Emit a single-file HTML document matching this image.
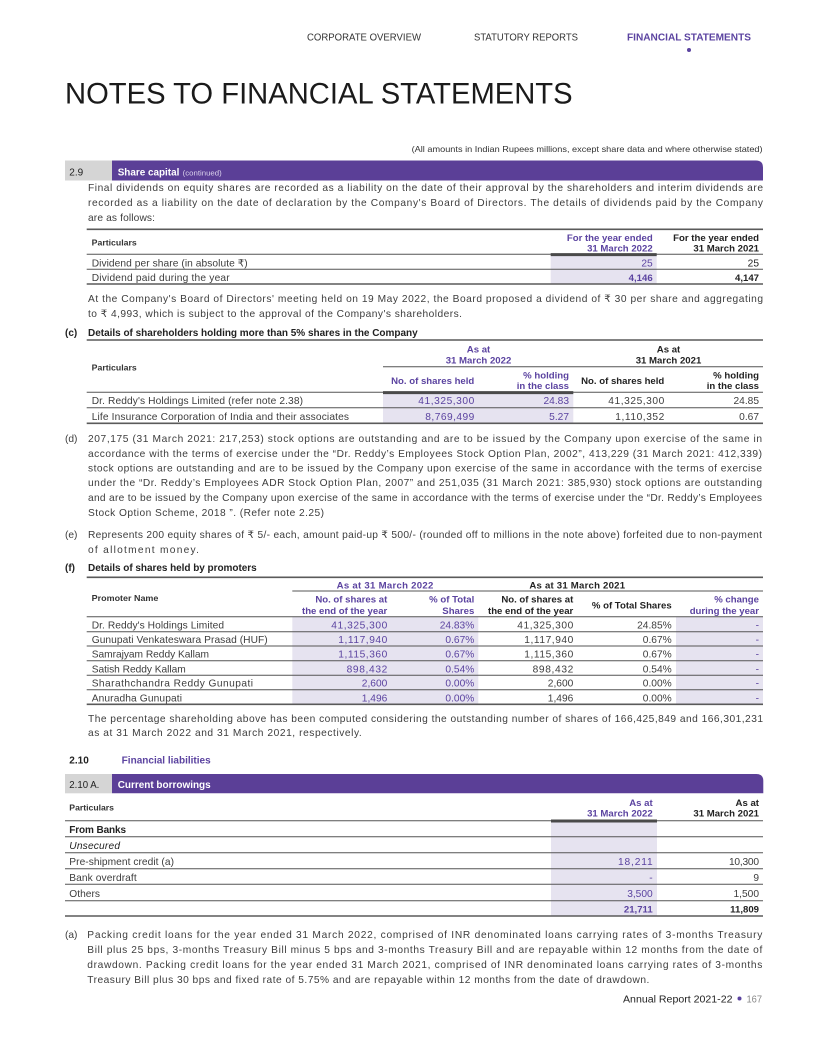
<!DOCTYPE html>
<html><head><meta charset="utf-8"><style>
html,body{margin:0;padding:0;background:#fff;}
svg{display:block;}
text{font-family:"Liberation Sans","DejaVu Sans",sans-serif;font-size:10.2px;fill:#3d3d3d;}
.b{font-weight:bold;font-size:9.6px;}
.p{fill:#5b43a0;}
.d{fill:#222;}
.w{fill:#fff;}
.h{font-size:8.5px;font-weight:bold;fill:#333;}
.e{text-anchor:end;}
.m{text-anchor:middle;}
.ln{stroke:#555;stroke-width:1;}
.tl{stroke:#5a5a5a;stroke-width:1.6;}
.tk{stroke:#4a4a4a;stroke-width:3;}
.sh{fill:#e6e3f0;}
</style></head><body>
<svg width="820" height="1037" viewBox="0 0 820 1037" xmlns="http://www.w3.org/2000/svg">
<rect width="820" height="1037" fill="#fff"/>
<!-- nav -->
<text x="307" y="40.5" textLength="114" lengthAdjust="spacingAndGlyphs" style="font-size:10px;fill:#333">CORPORATE OVERVIEW</text>
<text x="474" y="40.5" textLength="104" lengthAdjust="spacingAndGlyphs" style="font-size:10px;fill:#333">STATUTORY REPORTS</text>
<text x="627" y="40.5" textLength="124" lengthAdjust="spacingAndGlyphs" class="b p" style="font-size:10px">FINANCIAL STATEMENTS</text>
<circle cx="689" cy="50" r="2" fill="#5b43a0"/>
<!-- title -->
<text x="65" y="103.5" textLength="507.6" lengthAdjust="spacingAndGlyphs" style="font-size:30px;fill:#1a1a1a">NOTES TO FINANCIAL STATEMENTS</text>
<text x="411.6" y="152" textLength="351" lengthAdjust="spacingAndGlyphs" style="font-size:8.5px;fill:#333">(All amounts in Indian Rupees millions, except share data and where otherwise stated)</text>
<!-- bar 2.9 -->
<rect x="65" y="160.5" width="47" height="20" fill="#d5d5d5"/>
<path d="M112 160.5 H756 Q763 160.5 763 167.5 V180.5 H112 Z" fill="#5b3f97"/>
<text x="69.3" y="175.3" class="d" style="font-size:10px">2.9</text>
<text x="117.7" y="175.3" class="b w" textLength="61.7" lengthAdjust="spacingAndGlyphs" style="font-size:10px">Share capital</text>
<text x="182.7" y="175.3" textLength="39" lengthAdjust="spacingAndGlyphs" style="font-size:7.5px;fill:#ddd5ee">(continued)</text>
<!-- para 1 -->
<text x="88" y="191.2" textLength="675" lengthAdjust="spacing">Final dividends on equity shares are recorded as a liability on the date of their approval by the shareholders and interim dividends are</text>
<text x="88" y="206.2" textLength="675" lengthAdjust="spacing">recorded as a liability on the date of declaration by the Company's Board of Directors. The details of dividends paid by the Company</text>
<text x="88" y="221.2" textLength="67" lengthAdjust="spacing">are as follows:</text>
<!-- dividend table -->
<rect x="550.7" y="254.3" width="106" height="29.7" class="sh"/>
<line x1="86.7" y1="229.3" x2="763" y2="229.3" class="tl"/>
<text x="91.7" y="245.7" class="h" textLength="45" lengthAdjust="spacingAndGlyphs">Particulars</text>
<text x="652.7" y="241" class="b p e">For the year ended</text>
<text x="652.7" y="251.6" class="b p e">31 March 2022</text>
<text x="759" y="241" class="b d e">For the year ended</text>
<text x="759" y="251.6" class="b d e">31 March 2021</text>
<line x1="86.7" y1="254.3" x2="763" y2="254.3" class="ln"/>
<line x1="550.7" y1="254.6" x2="656.7" y2="254.6" class="tk"/>
<text x="91.7" y="266.7" textLength="156" lengthAdjust="spacing">Dividend per share (in absolute ₹)</text>
<text x="652.7" y="266.7" class="p e">25</text>
<text x="759" y="266.7" class="e d">25</text>
<line x1="86.7" y1="269.3" x2="763" y2="269.3" class="ln"/>
<text x="91.7" y="281.1" textLength="138" lengthAdjust="spacing">Dividend paid during the year</text>
<text x="652.7" y="281.1" class="b p e">4,146</text>
<text x="759" y="281.1" class="b d e">4,147</text>
<line x1="86.7" y1="284" x2="763" y2="284" class="tl"/>
<!-- para 2 -->
<text x="88" y="301.8" textLength="675" lengthAdjust="spacing">At the Company's Board of Directors' meeting held on 19 May 2022, the Board proposed a dividend of ₹ 30 per share and aggregating</text>
<text x="88" y="316.8" textLength="374" lengthAdjust="spacing">to ₹ 4,993, which is subject to the approval of the Company's shareholders.</text>
<!-- (c) -->
<text x="65" y="336.2" class="b d" style="font-size:10px">(c)</text>
<text x="88" y="336.2" class="b d" textLength="329.7" lengthAdjust="spacing" style="font-size:10px">Details of shareholders holding more than 5% shares in the Company</text>
<rect x="383" y="392.3" width="190.3" height="31" class="sh"/>
<line x1="86.7" y1="340" x2="763" y2="340" class="tl"/>
<text x="478.5" y="352.4" class="b p m">As at</text>
<text x="478.5" y="363.7" class="b p m">31 March 2022</text>
<text x="668.5" y="352.4" class="b d m">As at</text>
<text x="668.5" y="363.7" class="b d m">31 March 2021</text>
<line x1="383" y1="366.8" x2="763" y2="366.8" class="ln"/>
<text x="91.7" y="370.7" class="h" textLength="45" lengthAdjust="spacingAndGlyphs">Particulars</text>
<text x="474.3" y="384" class="b p e">No. of shares held</text>
<text x="569" y="378.4" class="b p e">% holding</text>
<text x="569" y="389.1" class="b p e">in the class</text>
<text x="664.3" y="384" class="b d e">No. of shares held</text>
<text x="759" y="378.4" class="b d e">% holding</text>
<text x="759" y="389.1" class="b d e">in the class</text>
<line x1="86.7" y1="392.3" x2="763" y2="392.3" class="ln"/>
<line x1="383" y1="392.6" x2="573.3" y2="392.6" class="tk"/>
<text x="91.7" y="404.1" textLength="211.3" lengthAdjust="spacing">Dr. Reddy's Holdings Limited (refer note 2.38)</text>
<text x="474.3" y="404.1" class="p e" textLength="56" lengthAdjust="spacing">41,325,300</text>
<text x="569" y="404.1" class="p e">24.83</text>
<text x="664.3" y="404.1" class="e" textLength="56" lengthAdjust="spacing">41,325,300</text>
<text x="759" y="404.1" class="e">24.85</text>
<line x1="86.7" y1="407.7" x2="763" y2="407.7" class="ln"/>
<text x="91.7" y="420.1" textLength="257.3" lengthAdjust="spacing">Life Insurance Corporation of India and their associates</text>
<text x="474.3" y="420.1" class="p e" textLength="49" lengthAdjust="spacing">8,769,499</text>
<text x="569" y="420.1" class="p e">5.27</text>
<text x="664.3" y="420.1" class="e" textLength="49" lengthAdjust="spacing">1,110,352</text>
<text x="759" y="420.1" class="e">0.67</text>
<line x1="86.7" y1="423.3" x2="763" y2="423.3" class="tl"/>
<!-- (d) -->
<text x="65" y="441.8">(d)</text>
<text x="88" y="441.8" textLength="674" lengthAdjust="spacing">207,175 (31 March 2021: 217,253) stock options are outstanding and are to be issued by the Company upon exercise of the same in</text>
<text x="88" y="456.8" textLength="674" lengthAdjust="spacing">accordance with the terms of exercise under the “Dr. Reddy’s Employees Stock Option Plan, 2002”, 413,229 (31 March 2021: 412,339)</text>
<text x="88" y="471.5" textLength="674" lengthAdjust="spacing">stock options are outstanding and are to be issued by the Company upon exercise of the same in accordance with the terms of exercise</text>
<text x="88" y="486.2" textLength="674" lengthAdjust="spacing">under the “Dr. Reddy’s Employees ADR Stock Option Plan, 2007” and 251,035 (31 March 2021: 385,930) stock options are outstanding</text>
<text x="88" y="501.2" textLength="674" lengthAdjust="spacing">and are to be issued by the Company upon exercise of the same in accordance with the terms of exercise under the “Dr. Reddy’s Employees</text>
<text x="88" y="515.8" textLength="236" lengthAdjust="spacing">Stock Option Scheme, 2018 ”. (Refer note 2.25)</text>
<!-- (e) -->
<text x="65" y="537.8">(e)</text>
<text x="88" y="537.8" textLength="674" lengthAdjust="spacing">Represents 200 equity shares of ₹ 5/- each, amount paid-up ₹ 500/- (rounded off to millions in the note above) forfeited due to non-payment</text>
<text x="88" y="552.8" textLength="111" lengthAdjust="spacing">of allotment money.</text>
<!-- (f) -->
<text x="65" y="571.2" class="b d" style="font-size:10px">(f)</text>
<text x="88" y="571.2" class="b d" textLength="168.7" lengthAdjust="spacing" style="font-size:10px">Details of shares held by promoters</text>
<rect x="292.3" y="616.7" width="186" height="87.6" class="sh"/>
<rect x="676" y="616.7" width="87" height="87.6" class="sh"/>
<line x1="86.7" y1="577.3" x2="763" y2="577.3" class="tl"/>
<text x="385" y="588.5" class="b p m" textLength="96.7" lengthAdjust="spacing">As at 31 March 2022</text>
<text x="577.2" y="588.5" class="b d m" textLength="95.7" lengthAdjust="spacing">As at 31 March 2021</text>
<line x1="292.3" y1="591" x2="763" y2="591" class="ln"/>
<text x="91.7" y="601" class="h" textLength="66.7" lengthAdjust="spacingAndGlyphs">Promoter Name</text>
<text x="387.3" y="602.6" class="b p e">No. of shares at</text>
<text x="387.3" y="614" class="b p e">the end of the year</text>
<text x="474.3" y="602.6" class="b p e">% of Total</text>
<text x="474.3" y="614" class="b p e">Shares</text>
<text x="573.3" y="602.6" class="b d e">No. of shares at</text>
<text x="573.3" y="614" class="b d e">the end of the year</text>
<text x="671.7" y="608.4" class="b d e">% of Total Shares</text>
<text x="759" y="602.6" class="b p e">% change</text>
<text x="759" y="614" class="b p e">during the year</text>
<line x1="86.7" y1="616.7" x2="763" y2="616.7" class="ln"/>
<!-- rows -->
<text x="91.7" y="628.4" textLength="132.3" lengthAdjust="spacing">Dr. Reddy's Holdings Limited</text>
<text x="387.3" y="628.4" class="p e" textLength="56" lengthAdjust="spacing">41,325,300</text>
<text x="474.3" y="628.4" class="p e">24.83%</text>
<text x="573.3" y="628.4" class="e" textLength="56" lengthAdjust="spacing">41,325,300</text>
<text x="671.7" y="628.4" class="e">24.85%</text>
<text x="759" y="628.4" class="p e">-</text>
<line x1="86.7" y1="631.7" x2="763" y2="631.7" class="ln"/>
<text x="91.7" y="643.1" textLength="176" lengthAdjust="spacing">Gunupati Venkateswara Prasad (HUF)</text>
<text x="387.3" y="643.1" class="p e" textLength="49" lengthAdjust="spacing">1,117,940</text>
<text x="474.3" y="643.1" class="p e">0.67%</text>
<text x="573.3" y="643.1" class="e" textLength="49" lengthAdjust="spacing">1,117,940</text>
<text x="671.7" y="643.1" class="e">0.67%</text>
<text x="759" y="643.1" class="p e">-</text>
<line x1="86.7" y1="646" x2="763" y2="646" class="ln"/>
<text x="91.7" y="657.4" textLength="117.3" lengthAdjust="spacing">Samrajyam Reddy Kallam</text>
<text x="387.3" y="657.4" class="p e" textLength="49" lengthAdjust="spacing">1,115,360</text>
<text x="474.3" y="657.4" class="p e">0.67%</text>
<text x="573.3" y="657.4" class="e" textLength="49" lengthAdjust="spacing">1,115,360</text>
<text x="671.7" y="657.4" class="e">0.67%</text>
<text x="759" y="657.4" class="p e">-</text>
<line x1="86.7" y1="660.7" x2="763" y2="660.7" class="ln"/>
<text x="91.7" y="672.4" textLength="94" lengthAdjust="spacing">Satish Reddy Kallam</text>
<text x="387.3" y="672.4" class="p e" textLength="40.7" lengthAdjust="spacing">898,432</text>
<text x="474.3" y="672.4" class="p e">0.54%</text>
<text x="573.3" y="672.4" class="e" textLength="40.7" lengthAdjust="spacing">898,432</text>
<text x="671.7" y="672.4" class="e">0.54%</text>
<text x="759" y="672.4" class="p e">-</text>
<line x1="86.7" y1="675.3" x2="763" y2="675.3" class="ln"/>
<text x="91.7" y="686.7" textLength="161.3" lengthAdjust="spacing">Sharathchandra Reddy Gunupati</text>
<text x="387.3" y="686.7" class="p e">2,600</text>
<text x="474.3" y="686.7" class="p e">0.00%</text>
<text x="573.3" y="686.7" class="e">2,600</text>
<text x="671.7" y="686.7" class="e">0.00%</text>
<text x="759" y="686.7" class="p e">-</text>
<line x1="86.7" y1="689.7" x2="763" y2="689.7" class="ln"/>
<text x="91.7" y="701.4" textLength="90.3" lengthAdjust="spacing">Anuradha Gunupati</text>
<text x="387.3" y="701.4" class="p e">1,496</text>
<text x="474.3" y="701.4" class="p e">0.00%</text>
<text x="573.3" y="701.4" class="e">1,496</text>
<text x="671.7" y="701.4" class="e">0.00%</text>
<text x="759" y="701.4" class="p e">-</text>
<line x1="86.7" y1="704.3" x2="763" y2="704.3" class="tl"/>
<text x="88" y="721.8" textLength="675" lengthAdjust="spacing">The percentage shareholding above has been computed considering the outstanding number of shares of 166,425,849 and 166,301,231</text>
<text x="88" y="736.2" textLength="273.7" lengthAdjust="spacing">as at 31 March 2022 and 31 March 2021, respectively.</text>
<!-- 2.10 -->
<text x="69.3" y="763.5" class="b d" style="font-size:10px">2.10</text>
<text x="121.7" y="763.5" class="b p" textLength="89" lengthAdjust="spacingAndGlyphs" style="font-size:10px">Financial liabilities</text>
<rect x="65" y="774" width="47" height="19.3" fill="#d5d5d5"/>
<path d="M112 774 H756.3 Q763.3 774 763.3 781 V793.3 H112 Z" fill="#5b3f97"/>
<text x="69.3" y="787.8" class="d" textLength="30" lengthAdjust="spacingAndGlyphs" style="font-size:10px">2.10 A.</text>
<text x="117.7" y="787.8" class="b w" textLength="93" lengthAdjust="spacingAndGlyphs" style="font-size:10px">Current borrowings</text>
<rect x="551" y="820.7" width="106" height="95.3" class="sh"/>
<text x="69.3" y="810.7" class="h" textLength="44.7" lengthAdjust="spacingAndGlyphs">Particulars</text>
<text x="652.7" y="806.1" class="b p e">As at</text>
<text x="652.7" y="816.7" class="b p e">31 March 2022</text>
<text x="759" y="806.1" class="b d e">As at</text>
<text x="759" y="816.7" class="b d e">31 March 2021</text>
<line x1="65" y1="820.7" x2="763" y2="820.7" class="ln"/>
<line x1="551" y1="821" x2="657" y2="821" class="tk"/>
<text x="69.3" y="832.8" class="b d" textLength="56.7" lengthAdjust="spacing" style="font-size:10px">From Banks</text>
<line x1="65" y1="836.7" x2="763" y2="836.7" class="ln"/>
<text x="69.3" y="848.8" class="d" style="font-style:italic" textLength="50.7" lengthAdjust="spacing">Unsecured</text>
<line x1="65" y1="852.7" x2="763" y2="852.7" class="ln"/>
<text x="69.3" y="865.2" textLength="104.7" lengthAdjust="spacing">Pre-shipment credit (a)</text>
<text x="652.7" y="865.2" class="p e" textLength="34.7" lengthAdjust="spacing">18,211</text>
<text x="759" y="865.2" class="e" textLength="30" lengthAdjust="spacing">10,300</text>
<line x1="65" y1="868.7" x2="763" y2="868.7" class="ln"/>
<text x="69.3" y="881.2" textLength="67.4" lengthAdjust="spacing">Bank overdraft</text>
<text x="652.7" y="881.2" class="p e">-</text>
<text x="759" y="881.2" class="e">9</text>
<line x1="65" y1="884.3" x2="763" y2="884.3" class="ln"/>
<text x="69.3" y="897.2" textLength="30.7" lengthAdjust="spacing">Others</text>
<text x="652.7" y="897.2" class="p e">3,500</text>
<text x="759" y="897.2" class="e">1,500</text>
<line x1="65" y1="900.7" x2="763" y2="900.7" class="ln"/>
<text x="652.7" y="912.5" class="b p e">21,711</text>
<text x="759" y="912.5" class="b d e">11,809</text>
<line x1="65" y1="916" x2="763" y2="916" class="tl"/>
<!-- (a) -->
<text x="65" y="937.8">(a)</text>
<text x="87.3" y="937.8" textLength="675" lengthAdjust="spacing">Packing credit loans for the year ended 31 March 2022, comprised of INR denominated loans carrying rates of  3-months Treasury</text>
<text x="87.3" y="952.8" textLength="675" lengthAdjust="spacing">Bill plus 25 bps, 3-months Treasury Bill minus 5 bps and 3-months Treasury Bill and are repayable within 12 months from the date of</text>
<text x="87.3" y="968.2" textLength="675" lengthAdjust="spacing">drawdown. Packing credit loans for the year ended 31 March 2021, comprised of INR denominated loans carrying rates of 3-months</text>
<text x="87.3" y="983.2" textLength="562" lengthAdjust="spacing">Treasury Bill plus 30 bps and fixed rate of 5.75% and are repayable within 12 months from the date of drawdown.</text>
<!-- footer -->
<text x="623" y="1002.5" class="d" textLength="109.5" lengthAdjust="spacingAndGlyphs" style="font-size:10px">Annual Report 2021-22</text>
<circle cx="739.5" cy="998.5" r="2" fill="#5b43a0"/>
<text x="746.5" y="1002.5" textLength="15.5" lengthAdjust="spacingAndGlyphs" style="font-size:10px;fill:#888">167</text>
</svg>
</body></html>
